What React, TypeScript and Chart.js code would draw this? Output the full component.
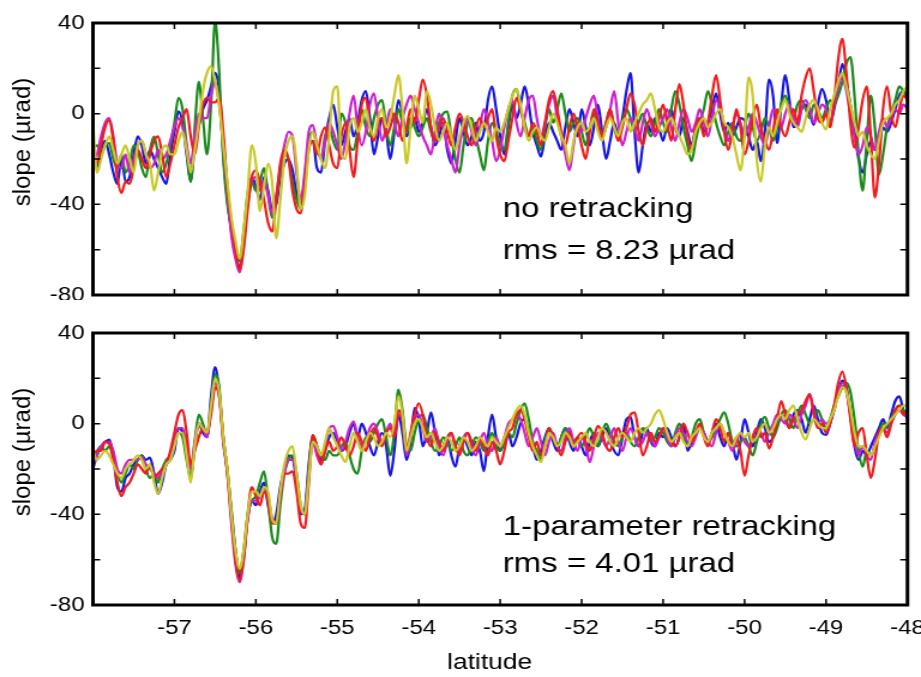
import React, { useEffect, useRef } from 'react';
import { Chart, registerables } from 'chart.js';

Chart.register(...registerables);

// ---------------- data ----------------
// samples every 0.05 deg of latitude, from -58.00 to -48.00 (201 values)
const LAT_START = -58;
const LAT_STEP = 0.05;

const latTicks = [-57, -56, -55, -54, -53, -52, -51, -50, -49];
const latLabels = [-57, -56, -55, -54, -53, -52, -51, -50, -49, -48];
const slopeTicks = [40, 20, 0, -20, -40, -60, -80];
const slopeLabels = [40, 0, -40, -80];

// top panel: no retracking
const topBlue = [
  -22, -24, -16, -12, -18, -26, -31, -19, -30, -28, -18, -10, -14, -22, -16, -20, -24, -28, -31, -18,
  -8, 1, -4, -18, -30, -14, -5, 2, 6, 12, 18, 10, -18, -38, -52, -62, -68, -55, -38, -28,
  -32, -38, -28, -34, -42, -40, -28, -22, -20, -25, -35, -40, -30, -14, -12, -24, -26, -12, -2, 4,
  -6, -14, -8, -2, -10, -4, 6, 10, -2, -18, -10, -2, -8, -20, -8, 6, 0, -10, -6, -2,
  -8, -4, 2, -6, -14, -10, -4, -16, -22, -12, -2, -8, -14, -10, -4, -12, -8, 6, 12, 2,
  -10, -18, -6, 4, -2, 4, 12, 4, -8, -14, -19, -10, -4, -8, -12, -16, -6, 2, -4, -10,
  2, -6, -14, -6, 4, -8, -20, -12, -4, -10, -2, 10, 18, -8, -26, -14, -4, -8, -2, -6,
  -12, -4, 2, -6, -10, -2, -8, -14, -6, -2, -8, -4, 2, 9, 0, -8, -4, -10, -6, -2,
  -3, -10, -16, -12, -21, -8, 15, 8, -13, 4, 17, 6, -6, -4, 2, 4, 0, -5, 4, 11,
  6, -4, 2, 12, 22, 14, 4, -8, -20, -26, -18, -12, -16, -14, -6, -8, -4, 2, 8, 10,
  6,
];
const topGreen = [
  -15, -14, -18, -14, -13, -20, -24, -18, -26, -22, -14, -16, -24, -28, -16, -10, -18, -26, -22, -14,
  -4, 7, 2, -14, -30, -6, 14, -2, -18, 4, 41, 18, -20, -40, -50, -58, -65, -52, -35, -30,
  -34, -30, -24, -36, -46, -38, -26, -18, -20, -30, -38, -42, -28, -12, -8, -14, -20, -10, -6, -12,
  -16, 0, -4, -14, -16, -8, 2, -6, -10, -2, 4, 6, -6, -14, -6, 2, -4, -8, -2, -6,
  -10, -6, -2, -8, -12, -4, 0, 1, -10, -20, -26, -14, -4, -2, -10, -18, -25, -12, -4, -8,
  -14, -16, -4, 8, 11, 2, -4, -10, -6, -12, -16, -6, 2, -4, 2, 9, 0, -8, -4, -2,
  -8, -14, -6, 0, -4, -10, -4, 2, -6, -10, -4, 2, -2, -8, -4, 0, -6, -10, -4, 2,
  -4, -8, 2, 10, 4, -6, -14, -21, -12, -4, 2, 10, 4, -4, -10, -14, -8, -4, -10, -12,
  -6, 0, -6, -12, -8, -2, -6, -12, -6, 4, 8, 2, -2, 4, 6, 2, -2, 4, 2, -2,
  2, 6, 4, 8, 14, 22, 25, 8, -18, -34, -12, 8, -6, -27, -18, -6, 0, 6, 12, 10,
  8,
];
const topRed = [
  -18, -22, -14, -6, -3, -12, -28, -35, -30, -31, -24, -16, -20, -24, -18, -12, -10, -18, -28, -22,
  -14, -6, -2, 2, -10, -18, -6, 4, 7, 5, 5, 7, -8, -32, -48, -60, -69, -60, -42, -28,
  -25, -30, -38, -48, -52, -38, -22, -16, -20, -34, -42, -44, -32, -16, -12, -18, -10, -6, -14, -22,
  -24, -10, -4, -16, -28, -12, 4, 7, -6, -12, -4, -2, -10, -6, 0, -4, -12, -6, 2, -4,
  6, 15, 8, -6, -12, -6, -2, -8, -14, -6, 0, -4, -10, -14, -6, -2, -6, -2, 2, -10,
  -18, -21, -12, -2, 7, 2, -6, -10, -4, -8, -14, -4, 6, 10, 2, -8, -14, -6, 0, -6,
  -14, -20, -8, 2, -4, -10, -4, 2, -6, -12, -6, 2, 9, 4, -8, -14, -6, -2, -8, -2,
  4, -4, -12, 2, 13, 4, -10, -16, -6, -2, -10, -4, 8, 17, 6, -8, -16, -8, 2, -6,
  -18, -12, -2, 4, -6, -12, -16, -8, 2, -6, -10, -4, 2, -4, 8, 16, 20, 10, -2, -4,
  0, -6, 6, 24, 33, 18, -4, -15, -6, 6, 12, -10, -37, -22, 2, 12, 0, -6, 2, 8,
  6,
];
const topMagenta = [
  -20, -18, -10, -4, -2, -10, -22, -24, -18, -26, -20, -14, -12, -18, -24, -22, -16, -20, -18, -12,
  -6, -2, -6, -14, -22, -10, 0, -2, -2, 8, 14, 4, -12, -34, -54, -64, -70, -56, -40, -30,
  -28, -34, -30, -36, -44, -36, -24, -14, -8, -10, -26, -38, -26, -8, -5, -14, -20, -12, -4, -8,
  -14, -20, -12, 0, 8, -6, -14, -8, 4, 9, -2, -12, -6, 2, -4, -10, -2, 4, 8, 2,
  -4, -10, -14, -18, -8, 0, -6, -14, -20, -26, -14, -6, -2, -8, -14, -6, 2, -4, -12, -21,
  -16, -6, 2, 6, -4, -10, -2, 6, 8, -2, -10, -4, 4, 8, -2, -10, -18, -25, -14, -4,
  -8, -2, 4, 8, -2, -10, -6, 2, 10, -4, -14, -8, -2, -6, -12, -4, 2, -4, -10, -6,
  -2, 2, -6, -12, -4, 2, -2, -8, -4, 2, -4, -10, -2, 6, 2, -6, -12, -6, 0, -4,
  -10, -6, 0, -4, -10, -14, -6, 2, -2, -6, 0, 4, -2, -6, 2, 6, 2, -4, 0, 4,
  2, -4, 4, 12, 16, 10, 0, -10, -18, -14, -6, -10, -16, -8, -2, -6, -2, 2, 0, 4,
  2,
];
const topYellow = [
  -4, -26, -20, -14, -10, -16, -22, -18, -14, -20, -26, -14, -12, -18, -22, -34, -26, -16, -14, -18,
  -18, -12, -8, -16, -26, -16, -4, 10, 18, 21, 14, 4, -14, -30, -46, -56, -64, -52, -34, -14,
  -22, -43, -32, -22, -30, -55, -38, -20, -12, -10, -22, -42, -36, -16, -8, -14, -20, -24, -10, 10,
  12, -18, -20, -6, -2, -8, -4, 2, -6, -10, -2, 2, -6, -2, 8, 17, 2, -22, -6, 8,
  2, -4, 10, 4, -6, -12, -8, -4, -10, -16, -10, -4, -1, -6, -12, -8, -4, -8, -12, -6,
  -8, -4, 2, 8, 11, 4, -6, -12, -8, -6, -10, -12, -6, 0, -4, -10, -14, -22, -12, -6,
  -4, -8, -6, -2, -8, -12, -6, -2, -6, -10, -4, -2, -8, -4, 0, 4, 6, 9, 2, -6,
  -8, -4, -2, -6, -10, -14, -18, -16, -8, -4, -2, -6, -4, 0, 2, -4, -6, -10, -18, -25,
  -10, 16, 8, -20, -30, -14, -6, -10, -4, 2, 6, 0, -4, -6, -8, -2, 4, 6, 2, -4,
  -7, 2, 8, 14, 18, 12, 4, -4, -10, -8, -14, -18, -20, -12, -4, -2, 0, 4, 6, 10,
  12,
];

// bottom panel: 1-parameter retracking
const botBlue = [
  -20, -14, -10, -8, -7, -14, -28, -30, -24, -22, -18, -16, -14, -16, -15, -22, -31, -26, -18, -16,
  -12, -2, -4, -14, -24, -10, 0, -4, -6, 12, 25, 14, -6, -21, -38, -56, -68, -58, -42, -34,
  -36, -30, -26, -36, -44, -40, -28, -20, -14, -15, -26, -40, -38, -18, -6, -10, -16, -12, -6, -4,
  -8, -12, -10, -4, 0, -6, 0, -4, -10, -14, -8, -4, -10, -23, -12, 4, -4, -16, -8, 7,
  2, -10, -4, 5, -4, -14, -10, -6, -14, -19, -10, -6, -10, -14, -8, -12, -21, -6, 4, -6,
  -12, -8, -4, -10, -6, 0, 2, -4, -10, -16, -12, -6, -2, -8, -12, -6, -2, -8, -12, -6,
  -10, -14, -8, -4, -10, -6, -2, -8, -12, -14, -6, 2, 3, -6, -10, -4, -2, -8, -10, -4,
  -6, -2, -6, -10, -6, 0, -12, -8, -4, -2, -4, -8, -4, 0, -6, -10, -4, -8, -16, -8,
  2, -4, -10, -4, 2, -2, -8, -6, 0, 4, 2, -2, 4, 6, 2, -4, 2, 8, 2, -4,
  -5, 0, 6, 14, 19, 16, 4, -10, -16, -12, -14, -10, -6, -2, 2, -2, 4, 10, 12, 6,
  2,
];
const botGreen = [
  -16, -12, -10, -12, -10, -14, -22, -26, -22, -18, -20, -16, -14, -20, -24, -22, -26, -20, -16, -14,
  -8, -4, -6, -16, -24, -8, 4, 0, -6, 8, 22, 16, -8, -20, -40, -56, -66, -56, -40, -34,
  -32, -26, -21, -34, -50, -53, -36, -22, -16, -14, -22, -36, -40, -20, -5, -10, -14, -16, -12, -14,
  -14, -10, -8, -14, -20, -22, -12, -6, -8, -4, 0, 2, -6, -14, -4, 15, 6, -10, -12, -4,
  2, 4, -2, -8, -12, -10, -6, -8, -12, -10, -6, -12, -14, -10, -6, -8, -12, -8, -4, -10,
  -12, -8, -4, -6, 0, 6, 9, 2, -8, -12, -16, -8, -2, -6, -10, -6, -2, -4, -8, -6,
  -10, -6, -2, -6, -10, -4, 0, -4, -8, -10, -6, -4, -8, -10, -6, -2, -4, -8, -6, -2,
  -4, -8, -10, -4, 0, -6, -10, -6, 0, 2, -4, -8, -6, -2, 2, 5, 0, -8, -10, -8,
  -6, -10, -14, -8, 0, 3, -2, -6, -2, 4, 6, 2, -2, 4, 8, 4, 0, 2, 6, 2,
  -2, 2, 8, 12, 16, 18, 14, 2, -12, -19, -12, -14, -10, -4, 0, -2, 2, 6, 8, 6,
  4,
];
const botRed = [
  -14, -12, -12, -8, -9, -16, -26, -32, -28, -26, -22, -18, -20, -22, -18, -24, -22, -20, -18, -12,
  -4, 4, 6, -4, -18, -12, -6, -2, -4, 4, 16, 12, -6, -22, -42, -60, -69, -60, -40, -28,
  -32, -36, -30, -34, -44, -44, -32, -22, -22, -21, -30, -44, -46, -26, -5, -10, -18, -12, -8, -12,
  -10, -6, -10, -14, -10, -4, -8, -12, -6, -2, -6, -10, -4, -2, -6, 6, 2, -12, -4, 4,
  9, 4, -6, -10, -4, -8, -12, -6, -4, -10, -14, -8, -4, -8, -12, -6, -10, -14, -8, -12,
  -18, -12, -4, -2, 4, 6, 2, -6, -12, -8, -14, -10, -2, -6, -10, -14, -8, -4, -10, -6,
  -4, -8, -12, -6, -1, -4, -10, -12, -6, -2, -6, -2, 4, 5, -4, -14, -10, -4, -8, -6,
  -2, -4, -8, -10, -6, 0, -4, -8, -4, 0, -6, -10, -4, 2, -2, -8, -4, -10, -6, -12,
  -23, -14, -6, -2, -6, -4, -11, -6, 2, 10, 4, -2, 2, 4, 6, 10, 13, 4, -2, 0,
  -4, 0, 8, 18, 23, 16, 2, -10, -4, -2, -14, -24, -16, -4, -2, -6, 0, 6, 8, 4,
  6,
];
const botMagenta = [
  -18, -14, -10, -8, -8, -12, -20, -22, -18, -16, -16, -16, -15, -18, -20, -22, -24, -20, -18, -14,
  -6, -2, -2, -10, -20, -8, 0, -2, -6, 6, 18, 12, -8, -22, -44, -62, -70, -60, -42, -34,
  -34, -32, -28, -32, -42, -44, -32, -22, -16, -16, -24, -38, -40, -22, -8, -14, -18, -10, -2, -1,
  -6, -12, -8, -2, 1, -6, -10, -8, -2, 0, -4, -8, -4, 0, -6, 4, 2, -14, -6, 2,
  4, -2, -8, -6, -2, -10, -14, -8, -4, -10, -12, -6, -4, -10, -14, -8, -4, -10, -12, -6,
  -10, -6, 0, 2, 4, 2, -4, -10, -6, -2, -8, -14, -8, -4, -10, -12, -6, -2, -8, -12,
  -6, -10, -17, -10, -4, -6, -10, -6, -2, -8, -12, -6, -2, -6, -10, -8, -4, -6, -10, -6,
  -2, -6, -10, -6, -2, -4, -8, -10, -6, -2, -4, -8, -10, -4, 0, -4, -8, -12, -8, -4,
  -8, -10, -6, -2, -4, -8, -4, 0, 4, 2, 0, 4, 2, -2, 4, 8, 13, 6, 0, 2,
  0, 2, 6, 14, 18, 14, 4, -8, -14, -10, -14, -16, -8, -4, -2, -4, 0, 4, 6, 4,
  3,
];
const botYellow = [
  -12, -16, -14, -12, -14, -18, -22, -24, -20, -18, -16, -14, -16, -20, -18, -26, -31, -24, -18, -16,
  -10, -4, -4, -14, -26, -10, 0, -2, -4, 8, 20, 14, -6, -20, -40, -56, -64, -56, -40, -30,
  -30, -32, -28, -30, -42, -44, -30, -18, -12, -10, -22, -36, -40, -24, -8, -10, -14, -8, -2, -6,
  -10, -14, -17, -10, -4, -8, -12, -8, -4, -6, -10, -8, -4, -6, 0, 12, 4, -12, -6, 0,
  2, -2, -6, -4, -8, -12, -10, -6, -8, -12, -10, -6, -8, -12, -10, -6, -8, -10, -6, -8,
  -10, -6, -2, 2, 6, 8, 4, -4, -10, -14, -17, -10, -4, -6, -10, -8, -4, -6, -10, -8,
  -6, -4, -8, -10, -6, -2, -4, -8, -10, -6, -4, -6, -8, -4, -2, -4, -2, 0, 4, 6,
  2, -4, -8, -6, -4, -8, -10, -6, -4, -2, -6, -8, -4, -2, 0, -4, -8, -10, -6, -4,
  -6, -4, -8, -6, -2, 0, -4, -2, 2, 4, 2, 6, 8, 2, -4, -7, -2, 2, 0, -2,
  -2, 2, 6, 12, 16, 14, 6, -4, -10, -10, -12, -14, -10, -6, -2, 0, 2, 4, 6, 8,
  8,
];

const topNote = ['no retracking', 'rms = 8.23 \u00b5rad'];
const botNote = ['1-parameter retracking', 'rms = 4.01 \u00b5rad'];
const yTitle = 'slope (\u00b5rad)';
const xTitle = 'latitude';

// ---------------- layout / style ----------------
const PAGE_W = 921;
const STRETCH = 1.2; // the reference figure is stretched horizontally
const IW = Math.round(PAGE_W / STRETCH);
const PLOT_LEFT = 77.5;
const PLOT_RIGHT = 756.7;
const PLOT_H = 272;
const FONT = '"Liberation Sans", Arial, Helvetica, sans-serif';

const COLORS = {
  yellow: '#c8c828',
  red: '#ee1c1c',
  magenta: '#cc22cc',
  green: '#1a8a1a',
  blue: '#1616e0',
};

const toPoints = (vals: number[]) =>
  vals.map((v, i) => ({ x: +(LAT_START + i * LAT_STEP).toFixed(2), y: v }));

const framePlugin = {
  id: 'frameTicks',
  afterDatasetsDraw(chart: any) {
    const { ctx, chartArea: a, scales } = chart;
    const tl = 6;
    ctx.save();
    ctx.strokeStyle = '#000';
    ctx.lineWidth = 1.5;
    ctx.beginPath();
    for (const v of latTicks) {
      const x = scales.x.getPixelForValue(v);
      ctx.moveTo(x, a.top);
      ctx.lineTo(x, a.top + tl);
      ctx.moveTo(x, a.bottom);
      ctx.lineTo(x, a.bottom - tl);
    }
    for (const v of slopeTicks) {
      const y = scales.y.getPixelForValue(v);
      ctx.moveTo(a.left, y);
      ctx.lineTo(a.left + tl, y);
      ctx.moveTo(a.right, y);
      ctx.lineTo(a.right - tl, y);
    }
    ctx.stroke();
    ctx.lineWidth = 3;
    ctx.strokeRect(a.left, a.top, a.right - a.left, a.bottom - a.top);
    ctx.restore();
  },
};

const notePlugin = {
  id: 'note',
  afterDraw(chart: any, _args: any, opts: any) {
    if (!opts || !opts.lines) return;
    const { ctx, chartArea: a } = chart;
    ctx.save();
    ctx.fillStyle = '#000';
    ctx.font = `${opts.size}px ${FONT}`;
    ctx.textBaseline = 'alphabetic';
    ctx.textAlign = 'left';
    opts.lines.forEach((t: string, i: number) => {
      ctx.fillText(t, a.left + opts.dx, a.top + opts.dy[i]);
    });
    ctx.restore();
    // rotated axis title, drawn without the horizontal stretch
    ctx.save();
    ctx.fillStyle = '#000';
    ctx.font = `${opts.titleSize}px ${FONT}`;
    ctx.textAlign = 'center';
    ctx.textBaseline = 'middle';
    ctx.translate(opts.titleX, (a.top + a.bottom) / 2 + opts.titleDy);
    ctx.scale(1 / STRETCH, 1);
    ctx.rotate(-Math.PI / 2);
    ctx.fillText(opts.title, 0, 0);
    ctx.restore();
    // x-axis title (bottom panel only)
    if (opts.xTitle) {
      ctx.save();
      ctx.fillStyle = '#000';
      ctx.font = `${opts.xTitleSize}px ${FONT}`;
      ctx.textAlign = 'center';
      ctx.textBaseline = 'middle';
      ctx.fillText(opts.xTitle, opts.xTitleX, opts.xTitleY);
      ctx.restore();
    }
  },
};

function makeDatasets(s: { y: number[]; r: number[]; m: number[]; g: number[]; b: number[] }) {
  const mk = (label: string, data: number[], color: string) => ({
    label,
    data: toPoints(data),
    borderColor: color,
    backgroundColor: color,
    borderWidth: 2.2,
    pointRadius: 0,
    fill: false,
    cubicInterpolationMode: 'monotone' as const,
  });
  return [
    mk('track 5', s.y, COLORS.yellow),
    mk('track 4', s.r, COLORS.red),
    mk('track 3', s.m, COLORS.magenta),
    mk('track 2', s.g, COLORS.green),
    mk('track 1', s.b, COLORS.blue),
  ];
}

type PanelProps = {
  top: number;
  height: number;
  padTop: number;
  padBottom: number;
  showX: boolean;
  series: { y: number[]; r: number[]; m: number[]; g: number[]; b: number[] };
  note: string[];
  noteDy: number[];
};

function Panel(p: PanelProps) {
  const ref = useRef<HTMLCanvasElement | null>(null);
  useEffect(() => {
    if (!ref.current) return;
    const chart = new Chart(ref.current, {
      type: 'line',
      data: { datasets: makeDatasets(p.series) as any },
      plugins: [framePlugin, notePlugin],
      options: {
        animation: false,
        responsive: false,
        maintainAspectRatio: false,
        devicePixelRatio: 1,
        events: [],
        layout: {
          padding: { top: p.padTop, bottom: p.padBottom, left: 0, right: IW - PLOT_RIGHT },
        },
        plugins: {
          legend: { display: false },
          tooltip: { enabled: false },
          note: {
            lines: p.note,
            size: 27.5,
            dx: 341.7,
            dy: p.noteDy,
            title: yTitle,
            titleSize: 24,
            titleX: 19.5,
            titleDy: -17,
            xTitle: p.showX ? xTitle : '',
            xTitleSize: 22,
            xTitleX: 490 / STRETCH,
            xTitleY: 363,
          },
        } as any,
        scales: {
          x: {
            type: 'linear',
            min: -58,
            max: -48,
            display: p.showX,
            grid: { display: false, drawTicks: false },
            border: { display: false },
            afterFit: (s: any) => {
              s.height = Math.max(0, p.height - (p.padTop + PLOT_H) - p.padBottom);
              s.paddingLeft = 0;
              s.paddingRight = 0;
              s.paddingTop = 0;
              s.paddingBottom = 0;
            },
            afterBuildTicks: (s: any) => {
              s.ticks = latLabels.map((v) => ({ value: v }));
            },
            ticks: {
              autoSkip: false,
              maxRotation: 0,
              padding: 11,
              color: '#000',
              font: { family: FONT, size: 20 },
              callback: (v: any) => String(v),
            },
            title: { display: false },
          },
          y: {
            min: -80,
            max: 40,
            grid: { display: false, drawTicks: false },
            border: { display: false },
            afterFit: (s: any) => {
              s.width = PLOT_LEFT;
              s.paddingTop = 0;
              s.paddingBottom = 0;
              s.paddingLeft = 0;
              s.paddingRight = 0;
            },
            afterBuildTicks: (s: any) => {
              s.ticks = slopeLabels.map((v) => ({ value: v }));
            },
            ticks: {
              padding: 7,
              color: '#000',
              font: { family: FONT, size: 20 },
              callback: (v: any) => String(v),
            },
            title: { display: false },
          },
        },
      } as any,
    });
    return () => chart.destroy();
  }, []);
  return (
    <canvas
      ref={ref}
      width={IW}
      height={p.height}
      style={{ position: 'absolute', left: 0, top: p.top, width: PAGE_W, height: p.height }}
    />
  );
}

export default function App() {
  return (
    <div
      style={{
        position: 'fixed',
        left: 0,
        top: 0,
        width: PAGE_W,
        height: 677,
        background: '#fff',
        overflow: 'hidden',
      }}
    >
      <Panel
        top={0}
        height={300}
        padTop={23}
        padBottom={5}
        showX={false}
        series={{ y: topYellow, r: topRed, m: topMagenta, g: topGreen, b: topBlue }}
        note={topNote}
        noteDy={[194, 236]}
      />
      <Panel
        top={300}
        height={377}
        padTop={33}
        padBottom={0}
        showX={true}
        series={{ y: botYellow, r: botRed, m: botMagenta, g: botGreen, b: botBlue }}
        note={botNote}
        noteDy={[202, 239]}
      />
    </div>
  );
}
